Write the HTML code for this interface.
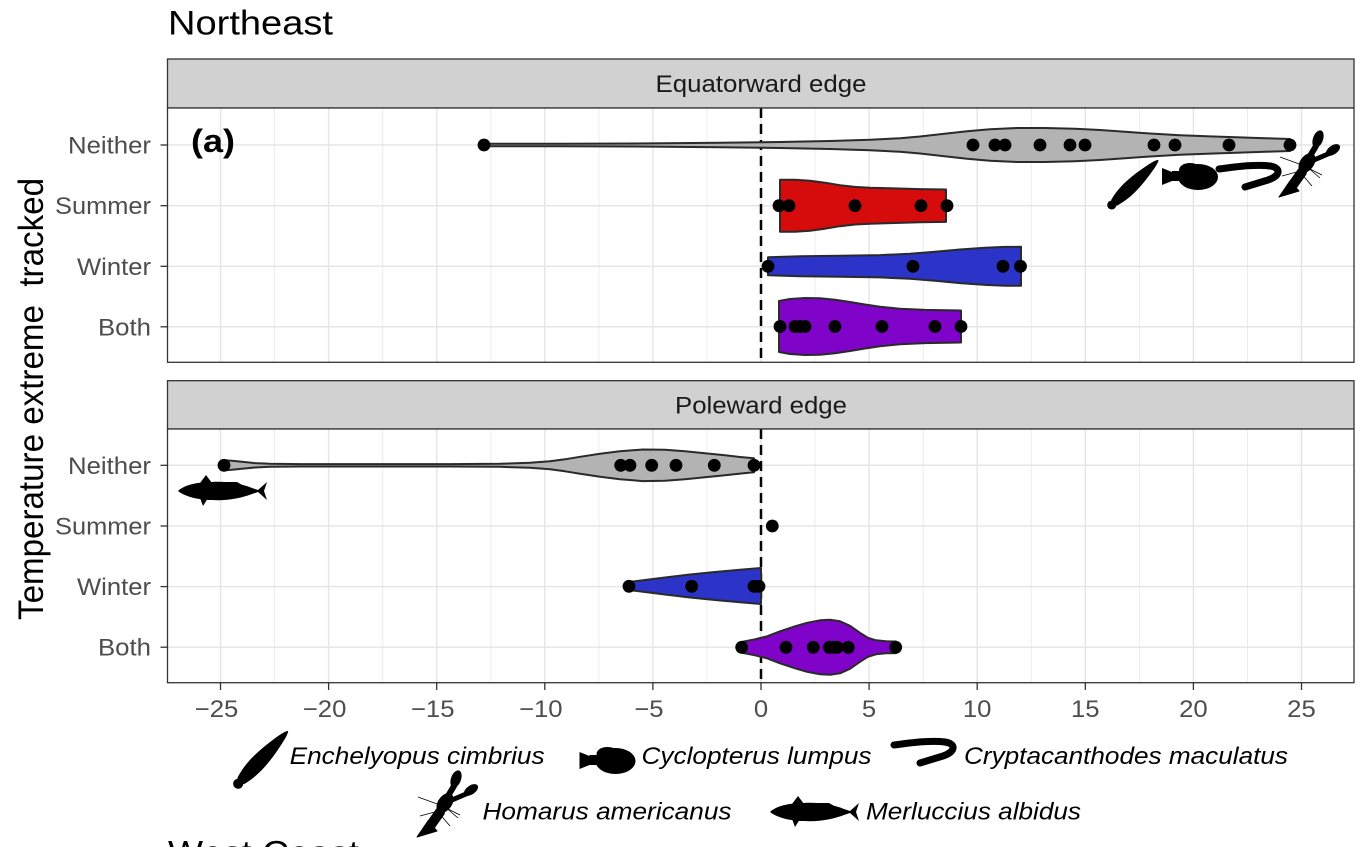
<!DOCTYPE html>
<html>
<head>
<meta charset="utf-8">
<style>
  html,body{margin:0;padding:0;background:#fff;}
  svg{display:block;}
  text{font-family:"Liberation Sans",Arial,sans-serif;}
</style>
</head>
<body>
<svg width="1370" height="847" viewBox="0 0 1370 847" xmlns="http://www.w3.org/2000/svg">
  <rect x="0" y="0" width="1370" height="847" fill="#ffffff"/>

  <!-- Title -->
  <text x="168" y="34.5" font-size="34.5" fill="#000" textLength="165" lengthAdjust="spacingAndGlyphs">Northeast</text>

  <!-- Y axis title -->
  <text transform="translate(43,399) scale(1.07,1) rotate(-90)" text-anchor="middle" font-size="33" fill="#000" textLength="442" lengthAdjust="spacingAndGlyphs">Temperature extreme&#160; tracked</text>

  <!-- ============ PANEL 1 ============ -->
  <rect x="167.5" y="59" width="1186.5" height="49" fill="#d1d1d1" stroke="#333" stroke-width="1.3"/>
  <text x="761" y="92" text-anchor="middle" font-size="24" fill="#1a1a1a" textLength="211" lengthAdjust="spacingAndGlyphs">Equatorward edge</text>
  <rect x="167.5" y="108" width="1186.5" height="254.3" fill="#fff"/>
  <g stroke="#ececec" stroke-width="1">
    <line x1="274.5" y1="108" x2="274.5" y2="362"/><line x1="382.7" y1="108" x2="382.7" y2="362"/>
    <line x1="490.8" y1="108" x2="490.8" y2="362"/><line x1="598.9" y1="108" x2="598.9" y2="362"/>
    <line x1="707" y1="108" x2="707" y2="362"/><line x1="815" y1="108" x2="815" y2="362"/>
    <line x1="923.2" y1="108" x2="923.2" y2="362"/><line x1="1031.3" y1="108" x2="1031.3" y2="362"/>
    <line x1="1139.4" y1="108" x2="1139.4" y2="362"/><line x1="1247.5" y1="108" x2="1247.5" y2="362"/>
  </g>
  <g stroke="#e6e6e6" stroke-width="1.5">
    <line x1="220.5" y1="108" x2="220.5" y2="362"/><line x1="328.6" y1="108" x2="328.6" y2="362"/>
    <line x1="436.7" y1="108" x2="436.7" y2="362"/><line x1="544.8" y1="108" x2="544.8" y2="362"/>
    <line x1="652.9" y1="108" x2="652.9" y2="362"/><line x1="761" y1="108" x2="761" y2="362"/>
    <line x1="869.1" y1="108" x2="869.1" y2="362"/><line x1="977.2" y1="108" x2="977.2" y2="362"/>
    <line x1="1085.3" y1="108" x2="1085.3" y2="362"/><line x1="1193.4" y1="108" x2="1193.4" y2="362"/>
    <line x1="1301.5" y1="108" x2="1301.5" y2="362"/>
    <line x1="167.5" y1="145" x2="1354" y2="145"/><line x1="167.5" y1="205.7" x2="1354" y2="205.7"/>
    <line x1="167.5" y1="266.3" x2="1354" y2="266.3"/><line x1="167.5" y1="326.8" x2="1354" y2="326.8"/>
  </g>
  <line x1="761" y1="108" x2="761" y2="362" stroke="#000" stroke-width="2.5" stroke-dasharray="10 6"/>

  <g stroke="#2a2a2a" stroke-width="2" stroke-linejoin="round">
    <path fill="#b3b3b3" d="M484,143.8 L560,143.7 650,143.4 720,142.8 780,142 830,141 870,139.8 900,138.2 920,136.5 940,134.2 967,131.2 990,129.2 1017,128 1045,128 1075,128.8 1100,130 1125,131.7 1150,133.5 1180,135.2 1210,136.4 1240,137.4 1265,138.2 1290,139 L1290,151 1265,151.8 1240,152.6 1210,153.6 1180,154.8 1150,156.5 1125,158.3 1100,160 1075,161.2 1045,162 1017,162 990,160.8 967,158.8 940,155.8 920,153.5 900,151.8 870,150.2 830,149 780,148 720,147.2 650,146.6 560,146.3 484,146.2 Z"/>
    <path fill="#d60b0b" d="M780,179.7 L795,179.7 810,180.7 825,182.7 840,185.2 855,186.9 870,187.7 890,188.3 920,189.1 946,189.5 L946,221.9 920,222.3 890,223.1 870,223.7 855,224.5 840,226.2 825,228.7 810,230.7 795,231.7 780,231.7 Z"/>
    <path fill="#2c33c8" d="M768,257.3 L800,256.3 840,255.8 880,255.1 910,253.8 935,251.8 960,249.5 985,247.7 1005,246.9 1021,246.8 L1021,285.8 1005,285.7 985,284.9 960,283.1 935,280.8 910,278.8 880,277.4 840,276.8 800,276.3 768,275.3 Z"/>
    <path fill="#7f03c9" d="M779,301 L790,299 805,298 820,298.3 835,299.7 850,302 865,304.5 880,306.7 900,308.7 925,309.9 961,310.5 L961,342.5 925,343.1 900,344.3 880,346.3 865,348.5 850,351 835,353.3 820,354.7 805,355 790,354 779,352 Z"/>
  </g>
  <g fill="#000">
    <circle cx="484" cy="145" r="6.4"/><circle cx="973" cy="145" r="6.4"/><circle cx="995" cy="145" r="6.4"/>
    <circle cx="1005" cy="145" r="6.4"/><circle cx="1040" cy="145" r="6.4"/><circle cx="1070" cy="145" r="6.4"/>
    <circle cx="1085" cy="145" r="6.4"/><circle cx="1154" cy="145" r="6.4"/><circle cx="1175" cy="145" r="6.4"/>
    <circle cx="1229" cy="145" r="6.4"/><circle cx="1290" cy="145" r="6.4"/>
    <circle cx="779" cy="205.7" r="6.4"/><circle cx="789" cy="205.7" r="6.4"/><circle cx="855" cy="205.7" r="6.4"/>
    <circle cx="921" cy="205.7" r="6.4"/><circle cx="947" cy="205.7" r="6.4"/>
    <circle cx="768" cy="266.3" r="6.4"/><circle cx="913" cy="266.3" r="6.4"/><circle cx="1003" cy="266.3" r="6.4"/>
    <circle cx="1020.5" cy="266.3" r="6.4"/>
    <circle cx="780" cy="326.5" r="6.4"/><circle cx="795" cy="326.5" r="6.4"/><circle cx="800" cy="326.5" r="6.4"/>
    <circle cx="805" cy="326.5" r="6.4"/><circle cx="835" cy="326.5" r="6.4"/><circle cx="882" cy="326.5" r="6.4"/>
    <circle cx="935" cy="326.5" r="6.4"/><circle cx="961" cy="326.5" r="6.4"/>
  </g>

  <!-- (a) -->
  <text x="191" y="152" font-size="32" font-weight="bold" fill="#000" textLength="44" lengthAdjust="spacingAndGlyphs">(a)</text>

  <!-- silhouettes panel 1 -->
  <g fill="#000">
    <g transform="translate(1134,183.5) rotate(-44)">
      <path d="M-28,-4 C-15,-8 0,-7.5 15,-5 C25,-3.5 32,-2 34,0 C32,2 25,3.5 15,5 C0,7.5 -15,8 -28,4 Z"/>
      <circle cx="-31" cy="0" r="4.5"/>
    </g>
  </g>
  <g fill="#000" transform="translate(1190,176)">
    <ellipse cx="8" cy="1" rx="20" ry="13"/>
    <ellipse cx="0" cy="-6" rx="11" ry="7"/>
    <rect x="-18" y="-5" width="12" height="10"/>
    <path d="M-28,-8 L-18,-4 L-18,5 L-28,9 Z"/>
  </g>
  <g>
    <path d="M1219,169 C1235,167 1255,164 1270,166 C1282,168 1280,176 1268,180 L1245,187" fill="none" stroke="#000" stroke-width="7" stroke-linecap="round"/>
  </g>
  <g id="lob" fill="#000" stroke="#000">
    <polygon points="1279,197 1299,191 1290,181" stroke-width="1" stroke-linejoin="round"/>
    <line x1="1290" y1="189" x2="1302" y2="172" stroke-width="10" stroke-linecap="round"/>
    <ellipse cx="1307" cy="163" rx="11" ry="7" transform="rotate(-55 1307 163)" stroke-width="0"/>
    <line x1="1310" y1="156" x2="1316" y2="146" stroke-width="6" stroke-linecap="round"/>
    <ellipse cx="1318" cy="139" rx="9" ry="5" transform="rotate(-70 1318 139)" stroke-width="0"/>
    <line x1="1314" y1="160" x2="1328" y2="154" stroke-width="5" stroke-linecap="round"/>
    <ellipse cx="1333" cy="150" rx="8" ry="4.5" transform="rotate(-35 1333 150)" stroke-width="0"/>
    <g stroke-width="0.8" fill="none">
      <line x1="1302" y1="165" x2="1280" y2="157"/><line x1="1304" y1="170" x2="1282" y2="176"/>
      <line x1="1306" y1="166" x2="1320" y2="178"/><line x1="1300" y1="172" x2="1312" y2="186"/>
      <line x1="1308" y1="168" x2="1322" y2="175"/>
    </g>
  </g>

  <!-- Y tick labels panel 1 -->
  <g font-size="24" fill="#4d4d4d" text-anchor="end">
    <text x="151" y="153.5" textLength="83" lengthAdjust="spacingAndGlyphs">Neither</text>
    <text x="151" y="214.2" textLength="96" lengthAdjust="spacingAndGlyphs">Summer</text>
    <text x="151" y="274.8" textLength="74" lengthAdjust="spacingAndGlyphs">Winter</text>
    <text x="151" y="335.3" textLength="53" lengthAdjust="spacingAndGlyphs">Both</text>
  </g>
  <g stroke="#333" stroke-width="1.3">
    <line x1="160.5" y1="145" x2="167.5" y2="145"/><line x1="160.5" y1="205.7" x2="167.5" y2="205.7"/>
    <line x1="160.5" y1="266.3" x2="167.5" y2="266.3"/><line x1="160.5" y1="326.8" x2="167.5" y2="326.8"/>
  </g>
  <rect x="167.5" y="108" width="1186.5" height="254.3" fill="none" stroke="#333" stroke-width="1.3"/>

  <!-- ============ PANEL 2 ============ -->
  <rect x="167.5" y="380.7" width="1186.5" height="48.3" fill="#d1d1d1" stroke="#333" stroke-width="1.3"/>
  <text x="761" y="413.6" text-anchor="middle" font-size="24" fill="#1a1a1a" textLength="172" lengthAdjust="spacingAndGlyphs">Poleward edge</text>
  <rect x="167.5" y="429" width="1186.5" height="253.7" fill="#fff"/>
  <g stroke="#ececec" stroke-width="1">
    <line x1="274.5" y1="429" x2="274.5" y2="682.7"/><line x1="382.7" y1="429" x2="382.7" y2="682.7"/>
    <line x1="490.8" y1="429" x2="490.8" y2="682.7"/><line x1="598.9" y1="429" x2="598.9" y2="682.7"/>
    <line x1="707" y1="429" x2="707" y2="682.7"/><line x1="815" y1="429" x2="815" y2="682.7"/>
    <line x1="923.2" y1="429" x2="923.2" y2="682.7"/><line x1="1031.3" y1="429" x2="1031.3" y2="682.7"/>
    <line x1="1139.4" y1="429" x2="1139.4" y2="682.7"/><line x1="1247.5" y1="429" x2="1247.5" y2="682.7"/>
  </g>
  <g stroke="#e6e6e6" stroke-width="1.5">
    <line x1="220.5" y1="429" x2="220.5" y2="682.7"/><line x1="328.6" y1="429" x2="328.6" y2="682.7"/>
    <line x1="436.7" y1="429" x2="436.7" y2="682.7"/><line x1="544.8" y1="429" x2="544.8" y2="682.7"/>
    <line x1="652.9" y1="429" x2="652.9" y2="682.7"/><line x1="761" y1="429" x2="761" y2="682.7"/>
    <line x1="869.1" y1="429" x2="869.1" y2="682.7"/><line x1="977.2" y1="429" x2="977.2" y2="682.7"/>
    <line x1="1085.3" y1="429" x2="1085.3" y2="682.7"/><line x1="1193.4" y1="429" x2="1193.4" y2="682.7"/>
    <line x1="1301.5" y1="429" x2="1301.5" y2="682.7"/>
    <line x1="167.5" y1="465.3" x2="1354" y2="465.3"/><line x1="167.5" y1="526" x2="1354" y2="526"/>
    <line x1="167.5" y1="586.6" x2="1354" y2="586.6"/><line x1="167.5" y1="647.2" x2="1354" y2="647.2"/>
  </g>
  <line x1="761" y1="429" x2="761" y2="682.7" stroke="#000" stroke-width="2.5" stroke-dasharray="10 6"/>

  <g stroke="#2a2a2a" stroke-width="2" stroke-linejoin="round">
    <path fill="#b3b3b3" d="M224,460.3 L232,460.8 242,461.8 255,463.1 270,463.8 300,464.1 450,464.1 500,463.8 530,462.8 550,461.3 565,459.3 580,456.8 600,453.8 620,451.3 643,449.5 665,449.8 685,451.3 705,453.3 725,455.3 740,457 754,458.3 L754,472.3 740,473.6 725,475.3 705,477.3 685,479.3 665,480.8 643,481.1 620,479.3 600,476.8 580,473.8 565,471.3 550,469.3 530,467.8 500,466.8 450,466.5 300,466.5 270,466.8 255,467.5 242,468.8 232,469.8 224,470.3 Z"/>
    <path fill="#2c33c8" d="M629,582 L645,580 665,577.5 690,574.5 715,572 740,569.7 761,568 L761,604 740,602.3 715,600 690,597.5 665,594.5 645,592 629,590 Z"/>
    <path fill="#7f03c9" d="M742,641.8 L755,639.3 767,636.3 780,631.3 795,626.3 807,622.8 820,620.3 830,619.8 840,621.3 850,625.8 860,632.8 868,637.8 876,640.3 886,641.3 896,641.5 L896,653.1 886,653.3 876,654.3 868,656.8 860,661.8 850,668.8 840,673.3 830,674.8 820,674.3 807,671.8 795,668.3 780,663.3 767,658.3 755,655.3 742,652.8 Z"/>
  </g>
  <g fill="#000">
    <circle cx="224" cy="465.3" r="6.4"/><circle cx="620.7" cy="465.3" r="6.4"/><circle cx="630" cy="465.3" r="6.4"/>
    <circle cx="651.7" cy="465.3" r="6.4"/><circle cx="676" cy="465.3" r="6.4"/><circle cx="714.3" cy="465.3" r="6.4"/>
    <circle cx="754" cy="465.3" r="6.4"/>
    <circle cx="772.3" cy="526" r="6.4"/>
    <circle cx="629" cy="586.3" r="6.4"/><circle cx="691.7" cy="586.3" r="6.4"/><circle cx="754" cy="586.3" r="6.4"/>
    <circle cx="759" cy="586.3" r="6.4"/>
    <circle cx="741.7" cy="647.3" r="6.4"/><circle cx="786" cy="647.3" r="6.4"/><circle cx="813.3" cy="647.3" r="6.4"/>
    <circle cx="829.3" cy="647.3" r="6.4"/><circle cx="833.3" cy="647.3" r="6.4"/><circle cx="837.3" cy="647.3" r="6.4"/>
    <circle cx="848.3" cy="647.3" r="6.4"/><circle cx="895.7" cy="647.3" r="6.4"/>
  </g>

  <!-- Merluccius panel 2 -->
  <g fill="#000" transform="translate(222,491)">
    <path d="M-44,0 C-38,-6 -25,-9 -10,-9 C5,-10 20,-7 30,-3 L36,-1 L45,-9 L42,0 L45,9 L36,1 L30,3 C20,7 5,10 -10,9 C-25,9 -38,5 -44,0 Z"/>
    <path d="M-22,-8 L-16,-16 L-10,-8 Z"/>
    <path d="M-5,-9 L15,-9 L22,-5 Z"/>
    <path d="M-22,7 L-19,15 L-14,7 Z"/>
  </g>

  <!-- Y tick labels panel 2 -->
  <g font-size="24" fill="#4d4d4d" text-anchor="end">
    <text x="151" y="473.8" textLength="83" lengthAdjust="spacingAndGlyphs">Neither</text>
    <text x="151" y="534.5" textLength="96" lengthAdjust="spacingAndGlyphs">Summer</text>
    <text x="151" y="595.1" textLength="74" lengthAdjust="spacingAndGlyphs">Winter</text>
    <text x="151" y="655.7" textLength="53" lengthAdjust="spacingAndGlyphs">Both</text>
  </g>
  <g stroke="#333" stroke-width="1.3">
    <line x1="160.5" y1="465.3" x2="167.5" y2="465.3"/><line x1="160.5" y1="526" x2="167.5" y2="526"/>
    <line x1="160.5" y1="586.6" x2="167.5" y2="586.6"/><line x1="160.5" y1="647.2" x2="167.5" y2="647.2"/>
  </g>
  <rect x="167.5" y="429" width="1186.5" height="253.7" fill="none" stroke="#333" stroke-width="1.3"/>

  <!-- X axis ticks -->
  <g stroke="#333" stroke-width="1.3">
    <line x1="220.5" y1="682.7" x2="220.5" y2="690"/><line x1="328.6" y1="682.7" x2="328.6" y2="690"/>
    <line x1="436.7" y1="682.7" x2="436.7" y2="690"/><line x1="544.8" y1="682.7" x2="544.8" y2="690"/>
    <line x1="652.9" y1="682.7" x2="652.9" y2="690"/><line x1="761" y1="682.7" x2="761" y2="690"/>
    <line x1="869.1" y1="682.7" x2="869.1" y2="690"/><line x1="977.2" y1="682.7" x2="977.2" y2="690"/>
    <line x1="1085.3" y1="682.7" x2="1085.3" y2="690"/><line x1="1193.4" y1="682.7" x2="1193.4" y2="690"/>
    <line x1="1301.5" y1="682.7" x2="1301.5" y2="690"/>
  </g>
  <g font-size="24" fill="#4d4d4d" text-anchor="middle">
    <text x="216.5" y="717" textLength="43.6" lengthAdjust="spacingAndGlyphs">&#8722;25</text>
    <text x="324.6" y="717" textLength="43.6" lengthAdjust="spacingAndGlyphs">&#8722;20</text>
    <text x="432.7" y="717" textLength="43.6" lengthAdjust="spacingAndGlyphs">&#8722;15</text>
    <text x="540.8" y="717" textLength="43.6" lengthAdjust="spacingAndGlyphs">&#8722;10</text>
    <text x="648.9" y="717" textLength="29.3" lengthAdjust="spacingAndGlyphs">&#8722;5</text>
    <text x="761" y="717" textLength="14.3" lengthAdjust="spacingAndGlyphs">0</text>
    <text x="869.1" y="717" textLength="14.3" lengthAdjust="spacingAndGlyphs">5</text>
    <text x="977.2" y="717" textLength="28.6" lengthAdjust="spacingAndGlyphs">10</text>
    <text x="1085.3" y="717" textLength="28.6" lengthAdjust="spacingAndGlyphs">15</text>
    <text x="1193.4" y="717" textLength="28.6" lengthAdjust="spacingAndGlyphs">20</text>
    <text x="1301.5" y="717" textLength="28.6" lengthAdjust="spacingAndGlyphs">25</text>
  </g>

  <!-- ============ LEGEND ============ -->
  <g fill="#000">
    <g transform="translate(262,758.5) rotate(-46.6) scale(1.12)">
      <path d="M-28,-4 C-15,-8 0,-7.5 15,-5 C25,-3.5 32,-2 34,0 C32,2 25,3.5 15,5 C0,7.5 -15,8 -28,4 Z"/>
      <circle cx="-31" cy="0" r="4.5"/>
    </g>
    <g transform="translate(607.5,760)">
      <ellipse cx="8" cy="1" rx="20" ry="13"/>
      <ellipse cx="0" cy="-6" rx="11" ry="7"/>
      <rect x="-18" y="-5" width="12" height="10"/>
      <path d="M-28,-8 L-18,-4 L-18,5 L-28,9 Z"/>
    </g>
    <g transform="translate(814,812)">
      <path d="M-44,0 C-38,-6 -25,-9 -10,-9 C5,-10 20,-7 30,-3 L36,-1 L45,-9 L42,0 L45,9 L36,1 L30,3 C20,7 5,10 -10,9 C-25,9 -38,5 -44,0 Z"/>
      <path d="M-22,-8 L-16,-16 L-10,-8 Z"/>
      <path d="M-5,-9 L15,-9 L22,-5 Z"/>
      <path d="M-22,7 L-19,15 L-14,7 Z"/>
    </g>
  </g>
  <g transform="translate(-325,576)">
    <path d="M1219,169 C1235,167 1255,164 1270,166 C1282,168 1280,176 1268,180 L1245,187" fill="none" stroke="#000" stroke-width="7" stroke-linecap="round"/>
  </g>
  <g transform="translate(-862,640)" fill="#000" stroke="#000">
    <polygon points="1279,197 1299,191 1290,181" stroke-width="1" stroke-linejoin="round"/>
    <line x1="1290" y1="189" x2="1302" y2="172" stroke-width="10" stroke-linecap="round"/>
    <ellipse cx="1307" cy="163" rx="11" ry="7" transform="rotate(-55 1307 163)" stroke-width="0"/>
    <line x1="1310" y1="156" x2="1316" y2="146" stroke-width="6" stroke-linecap="round"/>
    <ellipse cx="1318" cy="139" rx="9" ry="5" transform="rotate(-70 1318 139)" stroke-width="0"/>
    <line x1="1314" y1="160" x2="1328" y2="154" stroke-width="5" stroke-linecap="round"/>
    <ellipse cx="1333" cy="150" rx="8" ry="4.5" transform="rotate(-35 1333 150)" stroke-width="0"/>
    <g stroke-width="0.8" fill="none">
      <line x1="1302" y1="165" x2="1280" y2="157"/><line x1="1304" y1="170" x2="1282" y2="176"/>
      <line x1="1306" y1="166" x2="1320" y2="178"/><line x1="1300" y1="172" x2="1312" y2="186"/>
      <line x1="1308" y1="168" x2="1322" y2="175"/>
    </g>
  </g>
  <g font-size="24.5" font-style="italic" fill="#000">
    <text x="289.6" y="764" textLength="255" lengthAdjust="spacingAndGlyphs">Enchelyopus cimbrius</text>
    <text x="641.5" y="764" textLength="230" lengthAdjust="spacingAndGlyphs">Cyclopterus lumpus</text>
    <text x="964" y="764" textLength="324" lengthAdjust="spacingAndGlyphs">Cryptacanthodes maculatus</text>
    <text x="482.5" y="819.5" textLength="249" lengthAdjust="spacingAndGlyphs">Homarus americanus</text>
    <text x="866" y="819.5" textLength="215" lengthAdjust="spacingAndGlyphs">Merluccius albidus</text>
  </g>

  <!-- cut-off next section title -->
  <text x="168" y="864.5" font-size="34.5" fill="#000" textLength="191" lengthAdjust="spacingAndGlyphs">West Coast</text>
</svg>
</body>
</html>
